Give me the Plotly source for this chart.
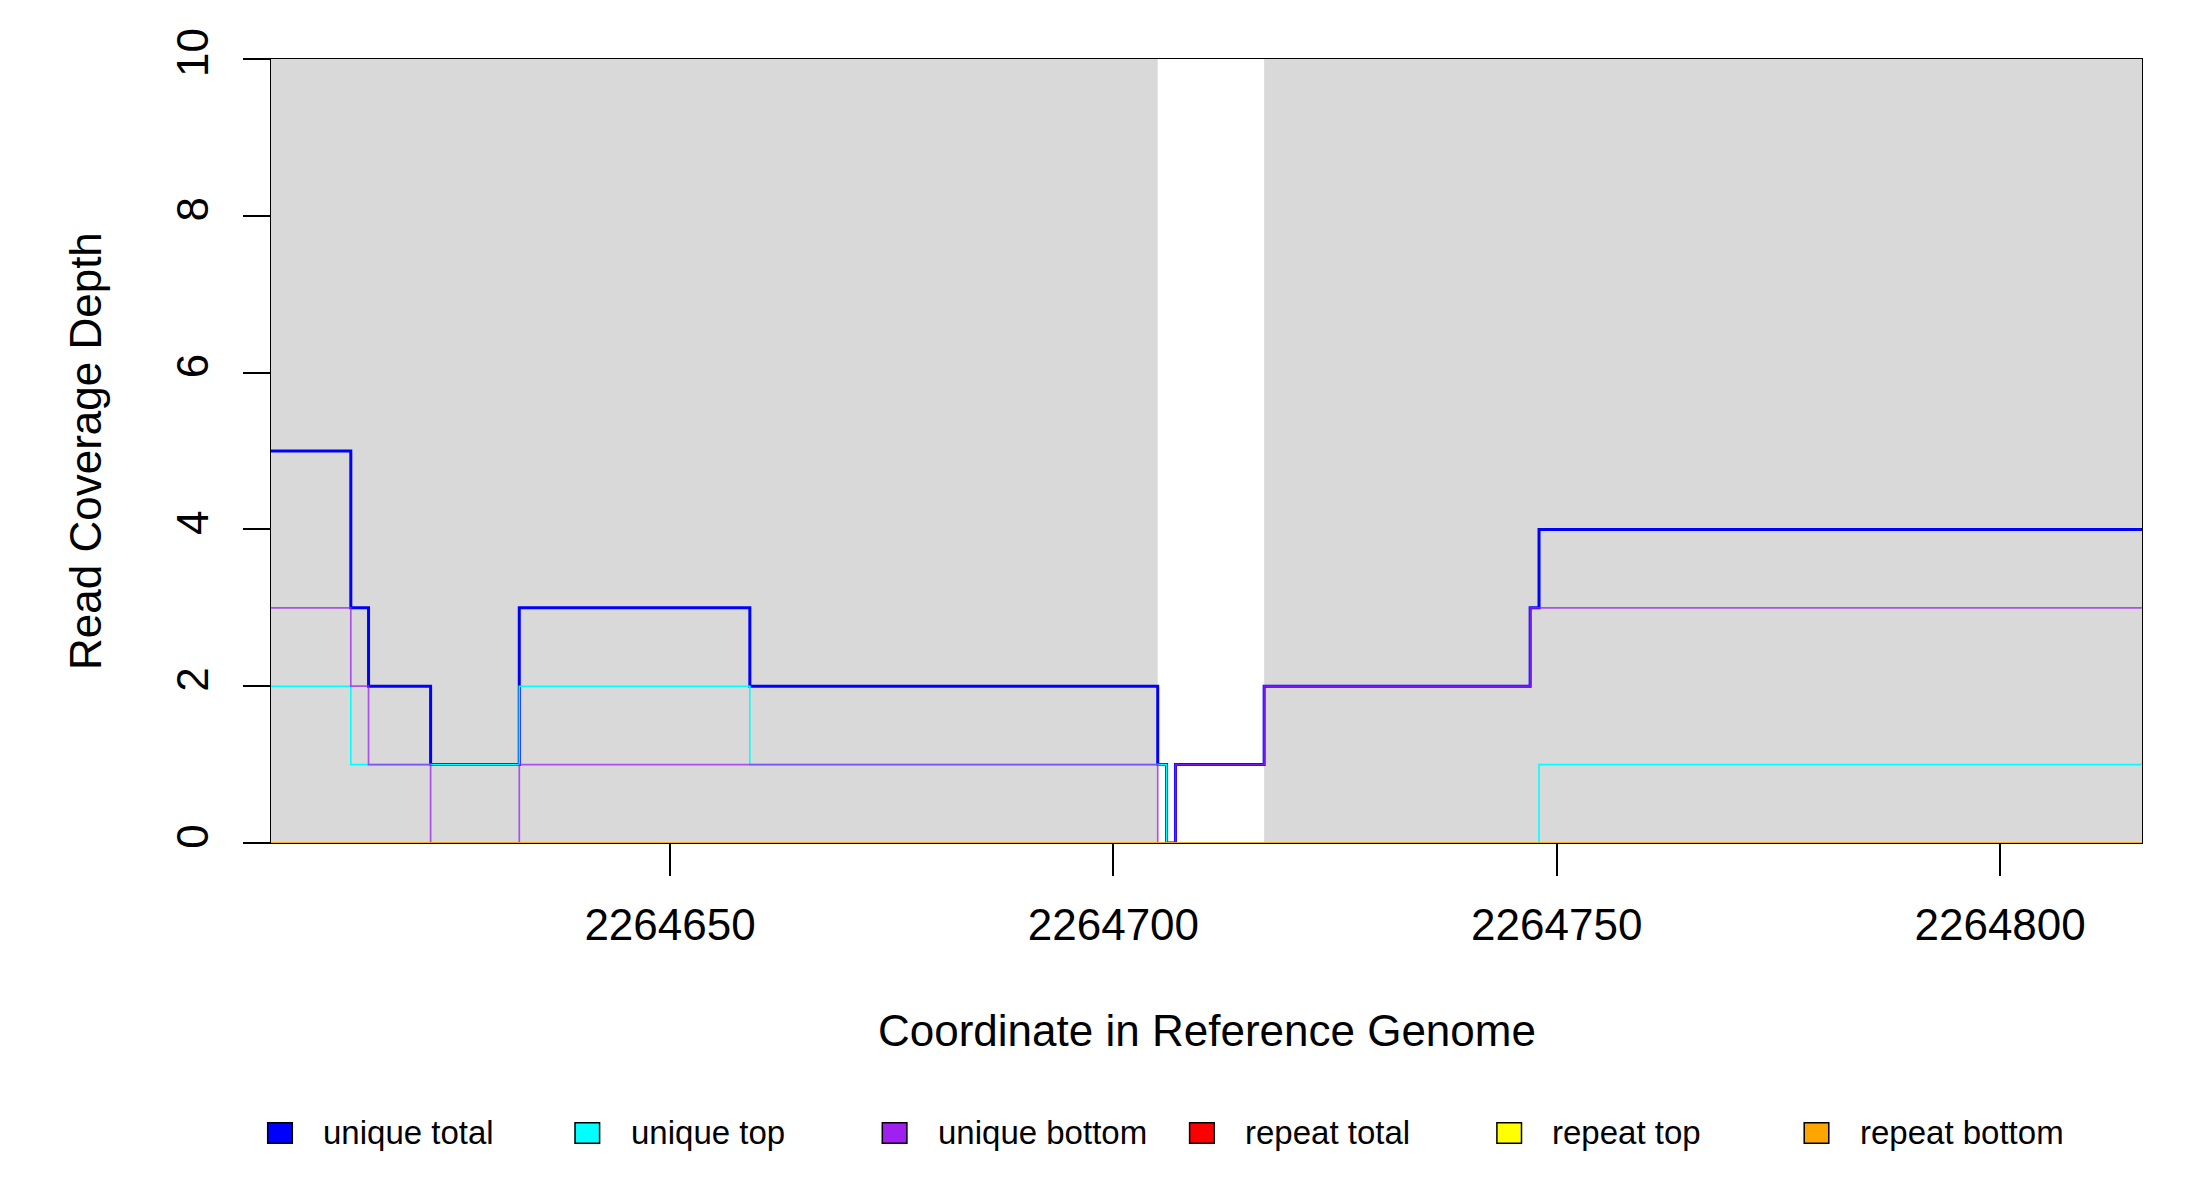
import plotly.graph_objects as go

# step coordinates (start of each constant run, last point = end of region)
positions = [2264605, 2264614, 2264616, 2264623, 2264633, 2264659, 2264705,
             2264706, 2264707, 2264717, 2264747, 2264748, 2264816]
unique_total = [5, 3, 2, 1, 3, 2, 1, 0, 1, 2, 3, 4, 4]
unique_top = [2, 1, 1, 1, 2, 1, 1, 0, 0, 0, 0, 1, 1]
unique_bottom = [3, 2, 1, 0, 1, 1, 0, 0, 1, 2, 3, 3, 3]
repeat_total = [0, 0, 0, 0, 0, 0, 0, 0, 0, 0, 0, 0, 0]
repeat_top = [0, 0, 0, 0, 0, 0, 0, 0, 0, 0, 0, 0, 0]
repeat_bottom = [0, 0, 0, 0, 0, 0, 0, 0, 0, 0, 0, 0, 0]

# covered (grey) regions of the reference
region_starts = [2264605, 2264717]
region_ends = [2264705, 2264816]

x_ticks = [2264650, 2264700, 2264750, 2264800]
y_ticks = [0, 2, 4, 6, 8, 10]

series_names = ["unique total", "unique top", "unique bottom",
                "repeat total", "repeat top", "repeat bottom"]
series_values = [unique_total, unique_top, unique_bottom,
                 repeat_total, repeat_top, repeat_bottom]
series_colors = ["#0000FF", "#00FFFF", "#A020F0", "#FF0000", "#FFFF00", "#FFA500"]
line_colors = ["rgba(0,0,255,1)", "rgba(0,255,255,1)", "rgba(160,32,240,0.75)",
               "rgba(255,0,0,0.6)", "rgba(255,255,0,0.6)", "rgba(255,165,0,0.7)"]
line_widths = [3, 1.6, 1.7, 1.6, 1.6, 1.6]

FONT = "Liberation Sans, Arial, sans-serif"
# page body has an 8px margin, so the figure is shrunk by that much
OFF = 8
W, H = 2200 - OFF, 1200 - OFF
L, R, T, B = 271 - OFF, 58, 59 - OFF, 357
PW, PH = W - L - R, H - T - B
PLOT_LEFT, PLOT_BOTTOM = 271, 843  # window pixels


def px_x(p):
    return (p - PLOT_LEFT) / PW


def px_y(p):
    return (PLOT_BOTTOM - p) / PH


fig = go.Figure()

for name, vals, col, lw in zip(series_names, series_values, line_colors, line_widths):
    fig.add_trace(go.Scatter(
        x=positions, y=vals, mode="lines", name=name,
        line=dict(color=col, width=lw, shape="hv"),
        showlegend=False, hoverinfo="skip"))

shapes = []
for x0, x1 in zip(region_starts, region_ends):
    shapes.append(dict(type="rect", xref="x", yref="paper", x0=x0, x1=x1, y0=0, y1=1,
                       fillcolor="#D9D9D9", line=dict(width=0), layer="below"))

# legend drawn underneath the plot, R style
annotations = []
for i, (name, col) in enumerate(zip(series_names, series_colors)):
    bx = 267.7 + i * 307.3
    shapes.append(dict(type="rect", xref="paper", yref="paper",
                       x0=px_x(bx), x1=px_x(bx + 24.6),
                       y0=px_y(1143.3), y1=px_y(1122.7),
                       fillcolor=col, line=dict(color="black", width=1.5)))
    annotations.append(dict(text=name, xref="paper", yref="paper",
                            x=px_x(bx + 53.5), y=px_y(1132), xanchor="left", yanchor="middle",
                            showarrow=False, font=dict(family=FONT, size=33, color="black")))

annotations.append(dict(text="Coordinate in Reference Genome", xref="paper", yref="paper",
                        x=0.5, y=px_y(1030.5), xanchor="center", yanchor="middle",
                        showarrow=False, font=dict(family=FONT, size=44, color="black")))
annotations.append(dict(text="Read Coverage Depth", xref="paper", yref="paper",
                        x=px_x(85), y=0.5, xanchor="center", yanchor="middle", textangle=-90,
                        showarrow=False, font=dict(family=FONT, size=44, color="black")))

fig.update_layout(
    width=W, height=H,
    margin=dict(l=L, r=R, t=T, b=B),
    paper_bgcolor="white", plot_bgcolor="white",
    font=dict(family=FONT, size=44, color="black"),
    shapes=shapes, annotations=annotations,
    showlegend=False,
)

fig.update_xaxes(
    range=[2264605, 2264816], tickvals=x_ticks, tickformat="d",
    ticks="outside", ticklen=32, tickwidth=1.5, tickcolor="black",
    showline=True, linecolor="black", linewidth=1.3, mirror=True,
    showgrid=False, zeroline=False, ticklabelstandoff=11,
    tickfont=dict(family=FONT, size=44, color="black"))
fig.update_yaxes(
    range=[0, 10], tickvals=y_ticks, tickangle=-90,
    ticks="outside", ticklen=27, tickwidth=1.5, tickcolor="black",
    showline=True, linecolor="black", linewidth=1.3, mirror=True,
    showgrid=False, zeroline=False, ticklabelstandoff=17,
    tickfont=dict(family=FONT, size=44, color="black"))

fig.write_html("out.html")
